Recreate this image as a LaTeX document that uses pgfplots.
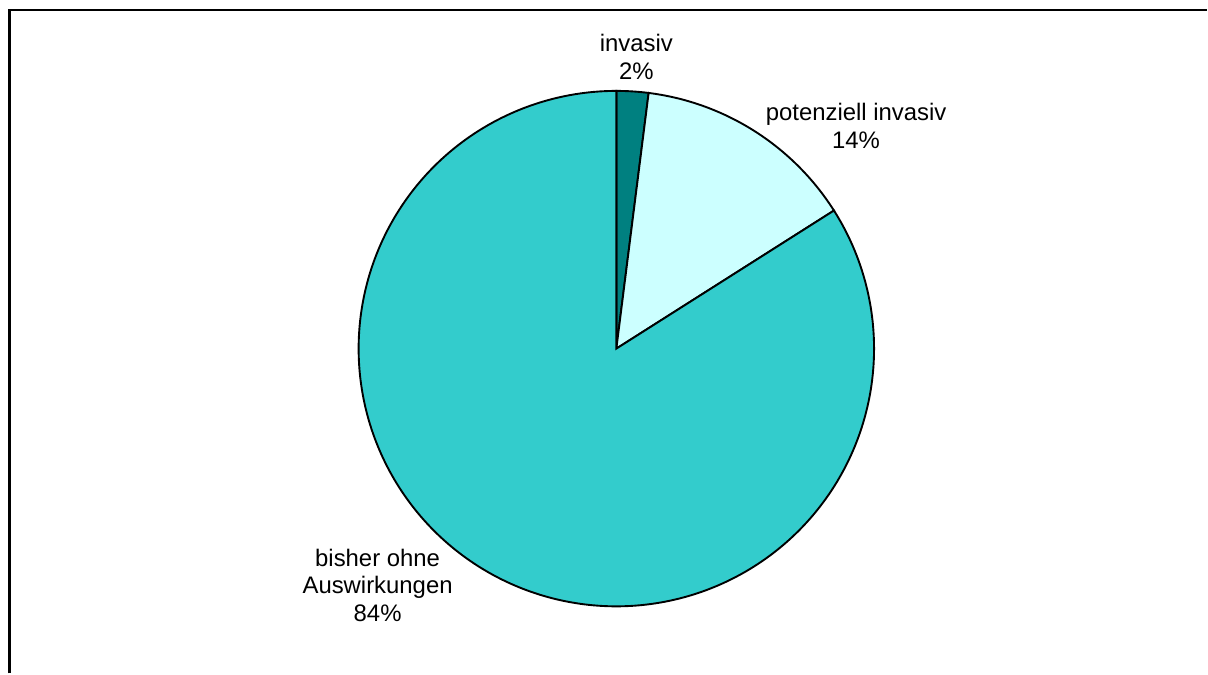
\documentclass[border=0pt]{standalone}
\usepackage{fontspec}
\setmainfont{Liberation Sans}
\usepackage{pgfplots}
\pgfplotsset{compat=1.18}

% shares of the three groups, in percent
\def\pInv{2}
\def\pPot{14}
\def\pOhne{84}

\definecolor{invcol}{HTML}{008080}
\definecolor{potcol}{HTML}{CCFFFF}
\definecolor{ohnecol}{HTML}{33CCCC}

\begin{document}
\begin{tikzpicture}
% slice boundaries, clockwise from the top
\pgfmathsetmacro\aA{90}
\pgfmathsetmacro\aB{90-3.6*\pInv}
\pgfmathsetmacro\aC{\aB-3.6*\pPot}
\pgfmathsetmacro\aD{\aC-3.6*\pOhne}
\begin{axis}[
  width=1208bp, height=674bp, scale only axis,
  xmin=0, xmax=1208, ymin=0, ymax=674,
  hide axis, clip=false,
]
\path (rel axis cs:0,0) rectangle (rel axis cs:1,1);
% outer frame
\draw[line width=2.6pt, black] (9.5,0) -- (9.5,664) -- (1208,664);
% pie slices
\addplot[draw=black, line width=1.9pt, fill=invcol, domain=\aB:\aA, samples=20]
  ({617+258*cos(x)},{325+258*sin(x)}) -- (617,325) -- cycle;
\addplot[draw=black, line width=1.9pt, fill=potcol, domain=\aC:\aB, samples=60]
  ({617+258*cos(x)},{325+258*sin(x)}) -- (617,325) -- cycle;
\addplot[draw=black, line width=1.9pt, fill=ohnecol, domain=\aD:\aC, samples=300]
  ({617+258*cos(x)},{325+258*sin(x)}) -- (617,325) -- cycle;
% labels
\begin{scope}[every node/.style={align=center, font=\fontsize{24}{28}\selectfont, inner sep=0pt}]
\node at (637,617) {invasiv\\\pInv\%};
\node at (857,548) {potenziell invasiv\\\pPot\%};
\node at (378,88) {bisher ohne\\Auswirkungen\\\pOhne\%};
\end{scope}
\end{axis}
\end{tikzpicture}
\end{document}
